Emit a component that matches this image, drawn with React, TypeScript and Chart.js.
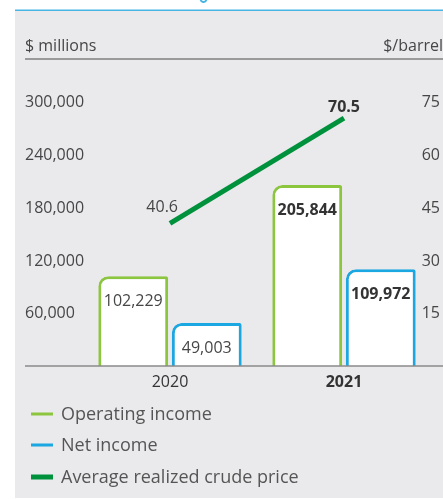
import React, { useEffect, useRef } from "react";
import { Chart, registerables } from "chart.js";

Chart.register(...registerables);

const categories = ["2020", "2021"];
const operatingIncome = [102229, 205844];
const netIncome = [49003, 109972];
const crudePrice = [40.6, 70.5];
const leftTickValues = [60000, 120000, 180000, 240000, 300000];
const rightTickValues = [15, 30, 45, 60, 75];
const legendLabels = ["Operating income", "Net income", "Average realized crude price"];
const leftAxisTitle = "$ millions";
const rightAxisTitle = "$/barrel";
const boldCategory = "2021";

const FONT = "'Open Sans', 'Noto Sans', sans-serif";
const GREEN_LIGHT = "#8cc63f";
const BLUE = "#1ba7e1";
const GREEN_DARK = "#00913c";
const TEXT = "#464646";
const DARK = "#333333";
const BG = "#eae9ec";

const fmt = (v: number) => v.toLocaleString("en-US");

const decorPlugin = {
  id: "decor",
  beforeDraw(chart: any) {
    const ctx = chart.ctx;
    const W = chart.width;
    ctx.save();
    ctx.fillStyle = "#ffffff";
    ctx.fillRect(0, 0, W, chart.height);
    ctx.fillStyle = BG;
    ctx.fillRect(15, 11, W - 15, 487);
    // top blue rule
    ctx.strokeStyle = "#45b5e6";
    ctx.lineWidth = 1.5;
    ctx.beginPath();
    ctx.moveTo(15, 10.25);
    ctx.lineTo(W, 10.25);
    ctx.stroke();
    // fragment of clipped title above
    ctx.lineWidth = 2;
    ctx.beginPath();
    ctx.arc(203.5, -1, 3, 0.1 * Math.PI, 0.9 * Math.PI);
    ctx.stroke();
    // axis titles
    ctx.font = `16px ${FONT}`;
    ctx.fillStyle = TEXT;
    ctx.textBaseline = "middle";
    ctx.textAlign = "left";
    ctx.fillText(leftAxisTitle, 25, 46.5);
    ctx.textAlign = "right";
    ctx.fillText(rightAxisTitle, W, 46.5);
    ctx.strokeStyle = "#7f7f7f";
    ctx.lineWidth = 1.5;
    ctx.beginPath();
    ctx.moveTo(25, 59);
    ctx.lineTo(W, 59);
    ctx.stroke();
    ctx.restore();
  },
  afterDatasetsDraw(chart: any) {
    const ctx = chart.ctx;
    const W = chart.width;
    const yScale = chart.scales.y;
    const y1Scale = chart.scales.y1;
    const y0 = yScale.getPixelForValue(0);
    ctx.save();
    // baseline
    ctx.strokeStyle = "#8a8a8a";
    ctx.lineWidth = 1.5;
    ctx.beginPath();
    ctx.moveTo(25, y0);
    ctx.lineTo(W, y0);
    ctx.stroke();

    ctx.textBaseline = "middle";
    // y-axis tick labels, positioned by the scales
    ctx.font = `16px ${FONT}`;
    ctx.fillStyle = TEXT;
    ctx.textAlign = "left";
    leftTickValues.forEach((v) => {
      ctx.fillText(fmt(v), 25, yScale.getPixelForValue(v) + 0.5);
    });
    ctx.textAlign = "right";
    rightTickValues.forEach((v) => {
      ctx.fillText(String(v), 440, y1Scale.getPixelForValue(v) + 0.5);
    });

    // bar value labels
    [1, 2].forEach((di) => {
      const meta = chart.getDatasetMeta(di);
      const data = chart.data.datasets[di].data as number[];
      meta.data.forEach((bar: any, j: number) => {
        const bold = categories[j] === boldCategory;
        ctx.font = `${bold ? "bold " : ""}16px ${FONT}`;
        ctx.fillStyle = bold ? DARK : TEXT;
        ctx.textAlign = "center";
        ctx.fillText(fmt(data[j]), bar.x, bar.y + 25.5);
      });
    });
    // line value labels
    const lmeta = chart.getDatasetMeta(0);
    lmeta.data.forEach((pt: any, j: number) => {
      const bold = categories[j] === boldCategory;
      ctx.font = `${bold ? "bold " : ""}16px ${FONT}`;
      ctx.fillStyle = bold ? DARK : TEXT;
      if (j === 0) {
        ctx.textAlign = "right";
        ctx.fillText(crudePrice[j].toFixed(1), pt.x + 8, pt.y - 16);
      } else {
        ctx.textAlign = "center";
        ctx.fillText(crudePrice[j].toFixed(1), pt.x, pt.y - 10.5);
      }
    });

    // legend
    const items = [
      { color: GREEN_LIGHT, width: 3, y: 414 },
      { color: BLUE, width: 3, y: 445 },
      { color: GREEN_DARK, width: 5, y: 477 },
    ];
    items.forEach((it, i) => {
      ctx.strokeStyle = it.color;
      ctx.lineWidth = it.width;
      ctx.beginPath();
      ctx.moveTo(31, it.y);
      ctx.lineTo(53, it.y);
      ctx.stroke();
      ctx.font = `18px ${FONT}`;
      ctx.fillStyle = "#555555";
      ctx.textAlign = "left";
      ctx.fillText(legendLabels[i], 61, it.y + 1);
    });
    ctx.restore();
  },
};

export default function App() {
  const ref = useRef<HTMLCanvasElement | null>(null);

  useEffect(() => {
    if (!ref.current) return;
    const radius = { topLeft: 10, topRight: 2, bottomLeft: 0, bottomRight: 0 };
    const chart = new Chart(ref.current, {
      type: "bar",
      data: {
        labels: categories,
        datasets: [
          {
            type: "line",
            label: legendLabels[2],
            data: crudePrice,
            yAxisID: "y1",
            borderColor: GREEN_DARK,
            borderWidth: 5,
            pointRadius: 0,
            tension: 0,
            fill: false,
          } as any,
          {
            type: "bar",
            label: legendLabels[0],
            data: operatingIncome,
            yAxisID: "y",
            backgroundColor: "#ffffff",
            borderColor: GREEN_LIGHT,
            borderWidth: 3,
            borderSkipped: "bottom",
            borderRadius: radius,
            categoryPercentage: 0.845,
            barPercentage: 0.95,
          },
          {
            type: "bar",
            label: legendLabels[1],
            data: netIncome,
            yAxisID: "y",
            backgroundColor: "#ffffff",
            borderColor: BLUE,
            borderWidth: 3,
            borderSkipped: "bottom",
            borderRadius: radius,
            categoryPercentage: 0.845,
            barPercentage: 0.95,
          },
        ],
      },
      options: {
        responsive: false,
        animation: false,
        events: [],
        layout: { padding: { left: 25, right: 3, top: 76, bottom: 99 } },
        plugins: {
          legend: { display: false },
          tooltip: { enabled: false },
        },
        scales: {
          x: {
            offset: true,
            grid: { display: false, drawTicks: false },
            border: { display: false },
            ticks: {
              padding: 7,
              color: DARK,
              font: (c: any) => ({
                family: FONT,
                size: 16,
                weight: categories[c.index] === boldCategory ? "bold" : "normal",
              }),
            },
            afterFit: (s: any) => {
              s.height = 34;
            },
          },
          y: {
            position: "left",
            min: 0,
            max: 330000,
            grid: { display: false, drawTicks: false },
            border: { display: false },
            ticks: { display: false, stepSize: 60000 },
            afterFit: (s: any) => {
              s.width = 58;
            },
          },
          y1: {
            position: "right",
            min: 0,
            max: 82.5,
            grid: { display: false, drawTicks: false },
            border: { display: false },
            ticks: { display: false, stepSize: 15 },
            afterFit: (s: any) => {
              s.width = 9;
            },
          },
        },
      },
      plugins: [decorPlugin],
    });
    return () => chart.destroy();
  }, []);

  return (
    <div style={{ position: "fixed", left: 0, top: 0, width: 443, height: 499, background: "#fff" }}>
      <canvas ref={ref} width={443} height={499} style={{ display: "block", width: 443, height: 499 }} />
    </div>
  );
}
